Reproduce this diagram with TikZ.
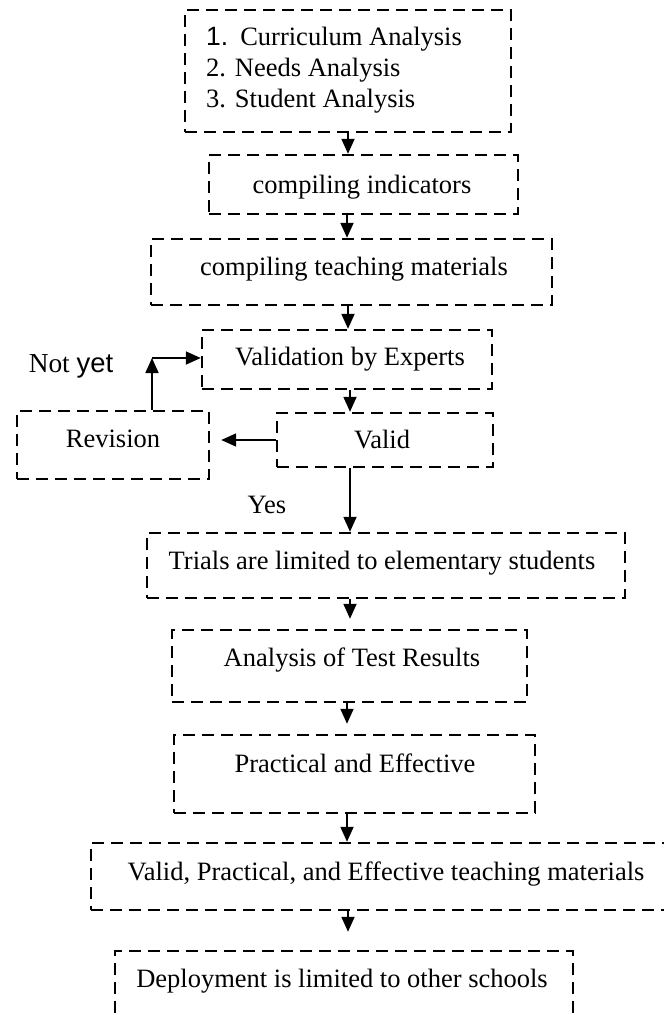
\documentclass[tikz,border=0pt]{standalone}
\usepackage{fontspec}
\setmainfont{Liberation Serif}
\setsansfont{Liberation Sans}
\usetikzlibrary{arrows.meta}
\tikzset{
  box/.style={draw, line width=2.4bp, dash pattern=on 12bp off 7bp, rectangle, inner sep=0pt},
  txt/.style={inner sep=0pt, anchor=base, font=\fontsize{26.6}{31}\selectfont},
  arr/.style={line width=1.8bp, -{Triangle[width=13bp,length=15bp]}}
}
\begin{document}
\begin{tikzpicture}[x=1bp,y=-1bp]
\useasboundingbox (0,0) rectangle (664,1015);
\clip (0,0) rectangle (664,1015);
% boxes
\node[box, minimum width=326bp, minimum height=122bp] (b1) at (348,71) {};
\node[box, minimum width=309bp, minimum height=59bp] (b2) at (363.5,184.5) {};
\node[box, minimum width=401bp, minimum height=66bp] (b3) at (351.5,272) {};
\node[box, minimum width=290bp, minimum height=59bp] (b4) at (347,359.5) {};
\node[box, minimum width=216bp, minimum height=54bp] (b5) at (385,440) {};
\node[box, minimum width=192bp, minimum height=68bp] (rev) at (113,445) {};
\node[box, minimum width=478bp, minimum height=65bp] (b6) at (386,565.5) {};
\node[box, minimum width=355bp, minimum height=72bp] (b7) at (349.5,666) {};
\node[box, minimum width=361bp, minimum height=78bp] (b8) at (354.5,774) {};
\node[box, minimum width=581bp, minimum height=67bp] (b9) at (381.5,876.5) {};
\node[box, minimum width=458bp, minimum height=79bp] (b10) at (344,990.5) {};
% texts
\node[txt, anchor=base west] (t1a) at (206,45) {{\sffamily 1.}\hspace{12bp}Curriculum Analysis};
\node[txt, anchor=base west] (t1b) at (206,76) {2. Needs Analysis};
\node[txt, anchor=base west] (t1c) at (206,107) {3. Student Analysis};
\node[txt] (t2) at (362,193) {compiling indicators};
\node[txt] (t3) at (354,275) {compiling teaching materials};
\node[txt] (t4) at (350,365) {Validation by Experts};
\node[txt] (t5) at (382,448) {Valid};
\node[txt] (trev) at (113,447) {Revision};
\node[txt, font=\fontsize{27.5}{31}\selectfont] (tno) at (71,372) {Not {\sffamily yet}};
\node[txt] (tyes) at (267,513) {Yes};
\node[txt] (t6) at (382,569) {Trials are limited to elementary students};
\node[txt] (t7) at (352,666) {Analysis of Test Results};
\node[txt] (t8) at (355,772) {Practical and Effective};
\node[txt] (t9) at (386,880) {Valid, Practical, and Effective teaching materials};
\node[txt] (t10) at (342,987) {Deployment is limited to other schools};
% connectors
\coordinate (c1) at (348,0);
\coordinate (c2) at (347,0);
\coordinate (c3) at (350,0);
\coordinate (nk) at (152,358);
\draw[arr] (c1 |- b1.south) -- (c1 |- b2.north);
\draw[arr] (c2 |- b2.south) -- (c2 |- b3.north);
\draw[arr] (c1 |- b3.south) -- (c1 |- b4.north);
\draw[arr] (c3 |- b4.south) -- (c3 |- b5.north);
\draw[arr, shorten >=11bp] (b5.west) -- (b5.west -| rev.east);
\draw[arr] (rev.north -| nk) -- (nk);
\draw[arr] (nk) -- (nk -| b4.west);
\draw[arr] (c3 |- b5.south) -- (c3 |- b6.north);
\draw[arr, shorten >=10bp] (c3 |- b6.south) -- (c3 |- b7.north);
\draw[arr, shorten >=10bp] (c2 |- b7.south) -- (c2 |- b8.north);
\draw[arr] (c2 |- b8.south) -- (c2 |- b9.north);
\draw[arr, shorten >=18bp] (c1 |- b9.south) -- (c1 |- b10.north);
\end{tikzpicture}
\end{document}
